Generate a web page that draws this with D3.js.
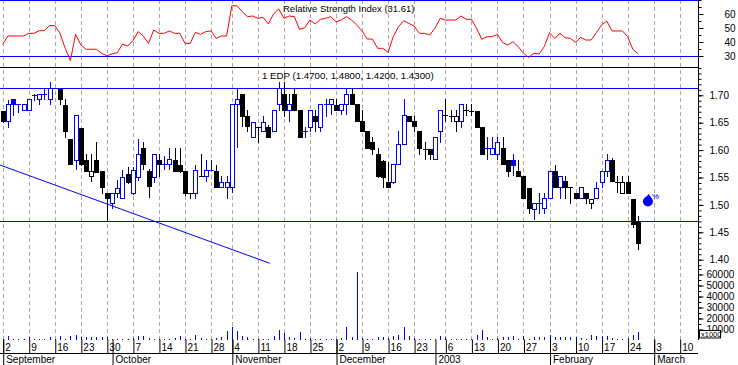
<!DOCTYPE html>
<html><head><meta charset="utf-8">
<script src="https://cdn.jsdelivr.net/npm/d3@7"></script>
<style>
body{margin:0;background:#fff;}
svg{display:block;font-family:"Liberation Sans",Arial,sans-serif;}
</style></head><body>
<svg id="c" width="738" height="365"></svg>
<script>
// ---------- DATA (trading-day index 0 = 2 Sep 2002) ----------
const ticker = "EDP";
const open = [
1.671,1.653,1.693,1.685,1.673,1.673,1.701,1.693,1.703,1.693,
1.713,1.712,1.682,1.621,1.582,1.641,1.582,1.553,1.582,1.562,
1.521,1.503,1.522,1.512,1.556,1.522,1.551,1.603,1.562,1.551,
1.582,1.575,1.574,1.582,1.573,1.561,1.521,1.522,1.553,1.553,
1.564,1.562,1.532,1.532,1.532,1.684,1.702,1.663,1.623,1.643,
1.634,1.643,1.634,1.684,1.702,1.673,1.702,1.673,1.634,1.643,
1.663,1.643,1.684,1.684,1.682,1.673,1.684,1.702,1.684,1.654,
1.634,1.614,1.593,1.580,1.542,1.542,1.575,1.612,1.663,1.654,
1.634,1.602,1.602,1.583,1.634,1.664,1.663,1.654,1.654,1.673,
1.672,1.672,1.643,1.603,1.593,1.593,1.603,1.582,1.582,1.562,
1.553,1.531,1.493,1.503,1.494,1.512,1.562,1.533,1.543,1.532,
1.522,1.512,1.522,1.503,1.512,1.541,1.562,1.582,1.542,1.522,
1.541,1.510,1.47];
const high = [
1.672,1.691,1.693,1.685,1.685,1.693,1.703,1.702,1.712,1.724,
1.713,1.712,1.693,1.621,1.664,1.641,1.593,1.593,1.615,1.562,
1.521,1.522,1.545,1.564,1.570,1.570,1.621,1.614,1.565,1.593,
1.592,1.590,1.603,1.603,1.603,1.562,1.522,1.573,1.593,1.582,
1.582,1.573,1.553,1.553,1.684,1.713,1.702,1.673,1.652,1.643,
1.663,1.645,1.673,1.725,1.724,1.702,1.713,1.673,1.643,1.673,
1.673,1.684,1.693,1.693,1.693,1.684,1.713,1.713,1.684,1.673,
1.634,1.623,1.603,1.582,1.579,1.575,1.634,1.693,1.663,1.663,
1.634,1.614,1.602,1.623,1.673,1.693,1.673,1.673,1.684,1.684,
1.684,1.672,1.643,1.623,1.623,1.623,1.623,1.582,1.592,1.582,
1.553,1.531,1.503,1.522,1.522,1.562,1.573,1.553,1.553,1.532,
1.522,1.533,1.522,1.511,1.542,1.562,1.592,1.585,1.553,1.553,
1.553,1.510,1.48];
const low = [
1.652,1.643,1.664,1.670,1.673,1.673,1.691,1.684,1.693,1.684,
1.713,1.684,1.624,1.574,1.565,1.573,1.562,1.544,1.560,1.522,
1.473,1.494,1.515,1.512,1.540,1.520,1.545,1.565,1.515,1.542,
1.553,1.565,1.565,1.562,1.560,1.518,1.512,1.512,1.553,1.543,
1.563,1.533,1.532,1.512,1.524,1.606,1.644,1.634,1.623,1.614,
1.634,1.623,1.634,1.673,1.663,1.654,1.673,1.623,1.623,1.634,
1.634,1.634,1.663,1.665,1.673,1.665,1.665,1.684,1.654,1.634,
1.603,1.593,1.550,1.533,1.533,1.540,1.575,1.612,1.654,1.634,
1.593,1.583,1.583,1.583,1.614,1.654,1.654,1.634,1.643,1.664,
1.664,1.643,1.593,1.583,1.593,1.583,1.575,1.553,1.555,1.553,
1.512,1.485,1.475,1.485,1.485,1.512,1.533,1.513,1.512,1.504,
1.512,1.512,1.504,1.494,1.512,1.533,1.553,1.543,1.524,1.522,
1.521,1.460,1.42];
const close = [
1.653,1.684,1.685,1.685,1.685,1.693,1.701,1.702,1.703,1.713,
1.713,1.694,1.634,1.574,1.664,1.574,1.562,1.561,1.560,1.533,
1.512,1.522,1.530,1.551,1.542,1.564,1.593,1.574,1.535,1.593,
1.575,1.575,1.583,1.562,1.561,1.522,1.521,1.564,1.553,1.564,
1.564,1.533,1.542,1.542,1.684,1.693,1.663,1.644,1.652,1.643,
1.652,1.623,1.673,1.713,1.673,1.684,1.673,1.623,1.634,1.673,
1.654,1.684,1.684,1.693,1.673,1.684,1.702,1.684,1.654,1.634,
1.603,1.602,1.552,1.551,1.533,1.575,1.612,1.664,1.654,1.644,
1.603,1.602,1.593,1.623,1.673,1.664,1.663,1.662,1.684,1.673,
1.672,1.643,1.593,1.603,1.603,1.614,1.575,1.562,1.573,1.553,
1.512,1.494,1.503,1.503,1.512,1.562,1.533,1.553,1.533,1.532,
1.512,1.533,1.512,1.511,1.531,1.562,1.582,1.543,1.542,1.541,
1.521,1.465,1.43];
const volume = [
1000,4500,1500,1500,1500,3600,1500,1500,1500,3000,
1000,4500,1500,4500,5400,3000,3000,3600,3600,3600,
3600,1500,1500,1500,1500,2400,4500,4500,2400,1500,
1000,1500,1500,2400,4500,1000,1500,5400,2400,1500,
1500,2400,3600,8400,12600,9000,4500,3600,1500,1500,
1500,1500,4500,9900,6600,3600,2400,7500,1500,2400,
1500,1500,1500,1500,1500,2400,12000,3600,62600,2400,
1500,1500,3600,3600,2000,4500,5400,12600,4500,2400,
1500,1500,1000,1500,4500,3600,1500,1500,1500,1500,
1000,5400,9600,3600,1500,2400,3600,3600,4500,1500,
4500,1500,3600,3600,3600,5400,3600,3600,3600,3600,
3600,2400,1500,5400,4500,4500,4500,2400,1500,1500,
2400,5400,7500];
const rsi = [
38.4,44.3,44.3,44.3,44.3,46.2,46.2,48.1,48.1,51.7,
51.7,46.2,35.5,26.7,45.5,37.9,34.8,34.8,34.8,31.9,
30.2,31.5,32.4,38.4,37.1,40.9,47.4,44.3,39.0,48.6,
46.2,46.2,47.9,46.2,46.2,39.0,39.0,46.9,45.5,47.4,
47.9,42.6,44.3,44.3,65.9,65.9,61.7,58.1,58.6,56.9,
57.6,52.9,60.0,63.6,56.9,58.6,58.1,49.0,50.2,55.7,
52.9,56.2,56.9,58.1,54.5,55.7,58.1,55.7,52.1,47.9,
42.1,42.1,35.5,35.5,32.6,43.8,50.9,55.2,53.3,51.4,
46.2,46.2,45.0,49.8,56.9,55.7,55.7,55.7,58.6,56.2,
56.2,49.8,41.9,43.8,43.8,45.5,39.5,37.9,40.2,36.7,
31.9,29.0,31.9,31.4,36.7,46.7,42.6,46.2,43.1,42.6,
39.8,43.3,41.4,41.4,46.7,52.1,55.0,47.9,47.9,47.9,
43.8,34.8,31.61];
const weekTickIdx    = [0,5,10,15,20,25,30,35,40,44,49,54,59,64,69,74,79,85,90,95,100,105,110,115,120,125,130];
const weekTickLabels = ["2","9","16","23","30","7","14","21","28","4","11","18","25","2","9","16","23","6","13","20","27","3","10","17","24","3","10"];
const monthTickIdx   = [0,21,44,64,83,105,125];
const monthLabels    = ["September","October","November","December","2003","February","March"];
const priceLabelTicks = [1.40,1.45,1.50,1.55,1.60,1.65,1.70];
const rsiLabelTicks   = [30,40,50,60];
const volLabelTicks   = [10000,20000,30000,40000,50000,60000];
const priceLevels = [1.713,1.4706];
const rsiLevels   = [70,30];
const trendLine   = [{i:-0.52,p:1.5728},{i:51.3,p:1.3934}];
const marker      = {i:123.9,p:1.509};

// ---------- SCALES ----------
const svg = d3.select("#c");
const AX = 698;
const x  = d3.scaleLinear().domain([0,130]).range([2.7,679.7]);
const yP = d3.scaleLinear().domain([1.45,1.70]).range([232.3,95.3]);
const yR = d3.scaleLinear().domain([30,70]).range([56,0]);
const yV = d3.scaleLinear().domain([0,60000]).range([340.5,274.5]);
const px = v => Math.round(v)+0.5;
const BLUE="#0000ff";

svg.append("rect").attr("width",738).attr("height",365).attr("fill","#fff");

// grid
svg.append("g").selectAll("line").data(weekTickIdx).join("line")
  .attr("x1",d=>px(x(d))).attr("x2",d=>px(x(d))).attr("y1",0).attr("y2",340)
  .attr("stroke","#a8a8a8").attr("stroke-dasharray","4,3");

// RSI levels
svg.append("g").selectAll("line").data(rsiLevels).join("line")
  .attr("x1",0).attr("x2",AX).attr("y1",d=>px(yR(d))).attr("y2",d=>px(yR(d)))
  .attr("stroke",BLUE);
// separator
svg.append("line").attr("x1",0).attr("x2",AX).attr("y1",67.5).attr("y2",67.5).attr("stroke","#000");
// price levels
svg.append("g").selectAll("line").data(priceLevels).join("line")
  .attr("x1",0).attr("x2",AX).attr("y1",d=>px(yP(d))).attr("y2",d=>px(yP(d)))
  .attr("stroke",BLUE);

// RSI line
svg.append("path").datum(rsi)
  .attr("d",d3.line().x((d,i)=>x(i)).y(d=>yR(d)))
  .attr("fill","none").attr("stroke","#ff0000").attr("stroke-width",1);

// titles
const last = close.length-1;
svg.append("text").attr("x",283).attr("y",12).attr("font-size",9.5)
  .text(`Relative Strength Index (${rsi[last].toFixed(2)})`);
svg.append("text").attr("x",262).attr("y",79).attr("font-size",9.7)
  .text(`1 ${ticker} (${open[last].toFixed(4)}, ${high[last].toFixed(4)}, ${low[last].toFixed(4)}, ${close[last].toFixed(4)})`);

// trend line
svg.append("line")
  .attr("x1",x(trendLine[0].i)).attr("y1",yP(trendLine[0].p))
  .attr("x2",x(trendLine[1].i)).attr("y2",yP(trendLine[1].p))
  .attr("stroke",BLUE).attr("stroke-width",1);

// volume
svg.append("g").selectAll("line").data(volume).join("line")
  .attr("x1",(d,i)=>px(x(i))).attr("x2",(d,i)=>px(x(i)))
  .attr("y1",340).attr("y2",d=>Math.round(yV(d)))
  .attr("stroke",BLUE);

// candles
const cg = svg.append("g").attr("shape-rendering","crispEdges");
close.forEach((c,i)=>{
  const o=open[i], h=high[i], l=low[i];
  const upCol = i===0 ? c>=o : c>=close[i-1];
  const col = upCol ? BLUE : "#000";
  const cx = Math.round(x(i));
  cg.append("line").attr("x1",cx+0.5).attr("x2",cx+0.5)
    .attr("y1",Math.round(yP(h))).attr("y2",Math.round(yP(l))+1).attr("stroke",col);
  if (c>o){
    const y1=Math.round(yP(c)), y2=Math.round(yP(o));
    cg.append("rect").attr("x",cx-2+0.5).attr("y",y1+0.5).attr("width",4).attr("height",Math.max(1,y2-y1))
      .attr("fill","#fff").attr("stroke",col);
  } else if (c<o){
    const y1=Math.round(yP(o)), y2=Math.round(yP(c));
    cg.append("rect").attr("x",cx-2).attr("y",y1).attr("width",5).attr("height",Math.max(2,y2-y1+1))
      .attr("fill",col);
  } else {
    const yy=Math.round(yP(c))+0.5;
    cg.append("line").attr("x1",cx-2).attr("x2",cx+3).attr("y1",yy).attr("y2",yy).attr("stroke",col);
  }
});

// marker
const mx=x(marker.i), my=yP(marker.p);
svg.append("circle").attr("cx",mx).attr("cy",my+1.5).attr("r",5).attr("fill",BLUE);
svg.append("path").attr("d",`M${mx-4},${my-1} L${mx+1},${my-6} L${mx+4},${my-1} Z`).attr("fill",BLUE);
svg.append("text").attr("x",mx+4).attr("y",my-1).attr("font-size",8).attr("fill",BLUE).text("%");

// right axis line
svg.append("line").attr("x1",AX+0.5).attr("x2",AX+0.5).attr("y1",0).attr("y2",340).attr("stroke","#000");

function styleAxis(g){ g.select(".domain").remove(); g.selectAll("text").attr("font-size",10).attr("font-family","Liberation Sans, Arial, sans-serif").attr("fill","#000"); }

// RSI axis
svg.append("g").attr("transform",`translate(${AX+0.5},0)`)
  .call(d3.axisRight(yR).tickValues(d3.range(30,71,5)).tickSize(3).tickFormat(""))
  .call(styleAxis);
svg.append("g").attr("transform",`translate(${AX+0.5},0)`)
  .call(d3.axisRight(yR).tickValues(rsiLabelTicks).tickSize(5).tickPadding(21).tickFormat(d3.format("d")))
  .call(styleAxis);

// price axis
svg.append("g").attr("transform",`translate(${AX+0.5},0)`)
  .call(d3.axisRight(yP).tickValues(d3.range(139,176).map(d=>d/100)).tickSize(3).tickFormat(""))
  .call(styleAxis);
svg.append("g").attr("transform",`translate(${AX+0.5},0)`)
  .call(d3.axisRight(yP).tickValues(priceLabelTicks).tickSize(5).tickPadding(6).tickFormat(d3.format(".2f")))
  .call(styleAxis);

// volume axis
svg.append("g").attr("transform",`translate(${AX+0.5},0)`)
  .call(d3.axisRight(yV).tickValues(d3.range(5000,65001,5000)).tickSize(3).tickFormat(""))
  .call(styleAxis);
svg.append("g").attr("transform",`translate(${AX+0.5},0)`)
  .call(d3.axisRight(yV).tickValues(volLabelTicks).tickSize(5).tickPadding(3).tickFormat(d3.format("d")))
  .call(styleAxis);
svg.append("rect").attr("x",699.5).attr("y",330.5).attr("width",21).attr("height",7.5)
  .attr("fill","#fff").attr("stroke","#000");
svg.append("text").attr("x",701).attr("y",337).attr("font-size",7.5).text("x1000");

// x axis
svg.append("line").attr("x1",0).attr("x2",AX).attr("y1",353.5).attr("y2",353.5).attr("stroke","#000");
const dayAx = svg.append("g").attr("transform","translate(0,353.5)")
  .call(d3.axisTop(x).tickValues(weekTickIdx).tickSize(14).tickFormat((d,k)=>weekTickLabels[k]))
  .call(styleAxis);
dayAx.selectAll(".tick line").attr("transform","translate(0.5,0)");
dayAx.selectAll(".tick text").attr("x",2).attr("y",-6.5).attr("dy","0.35em").attr("text-anchor","start");
const monAx = svg.append("g").attr("transform","translate(0,353.5)")
  .call(d3.axisBottom(x).tickValues(monthTickIdx).tickSize(12).tickFormat((d,k)=>monthLabels[k]))
  .call(styleAxis);
monAx.selectAll(".tick line").attr("y1",-14).attr("transform","translate(0.5,0)");
monAx.selectAll(".tick text").attr("x",3).attr("y",9).attr("dy",null).attr("text-anchor","start");
</script>
</body></html>
